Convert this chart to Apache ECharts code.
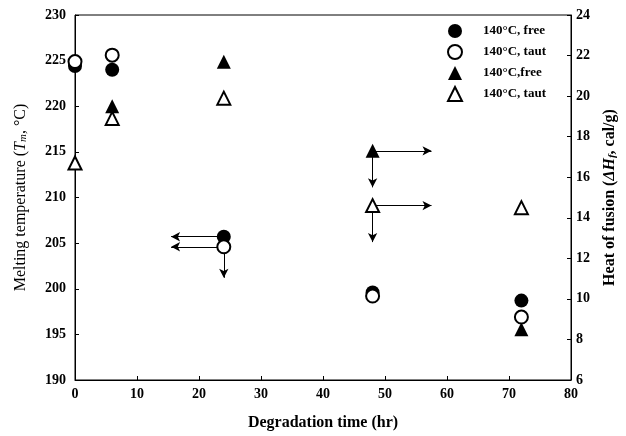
<!DOCTYPE html>
<html>
<head>
<meta charset="utf-8">
<title>Melting temperature and heat of fusion</title>
<script src="https://cdn.jsdelivr.net/npm/echarts@6/dist/echarts.min.js"></script>
<style>
  html, body { margin: 0; padding: 0; background: #fff; }
  #chart { width: 626px; height: 436px; }
</style>
</head>
<body>
<div id="chart"></div>
<script>
// melting temperature (left axis, °C)  [time hr, Tm]
var tmFree = [[0, 224.4], [6, 224.0], [24, 205.7], [48, 199.6], [72, 198.7]];
var tmTaut = [[0, 224.9], [6, 225.6], [24, 204.6], [48, 199.2], [72, 196.9]];
// heat of fusion (right axis, cal/g)
var dhFree = [[6, 19.5], [24, 21.7], [48, 17.3], [72, 8.5]];
var dhTaut = [[0, 16.7], [6, 18.9], [24, 19.9], [48, 14.6], [72, 14.5]];
// arrows drawn on the plot: [from, to]
var tmArrows = [[[24, 205.7], [15.5, 205.7]], [[24, 204.6], [15.5, 204.6]], [[24, 204.6], [24, 201.2]]];
var dhArrows = [[[48, 17.3], [57.5, 17.3]], [[48, 17.3], [48, 15.5]], [[48, 14.6], [57.5, 14.6]], [[48, 14.6], [48, 12.8]]];
var legendNames = { tmFree: '140°C, free', tmTaut: '140°C, taut', dhFree: '140°C,free', dhTaut: '140°C, taut' };

var serif = '"Liberation Serif", "DejaVu Serif", serif';

function arrowLines(list) {
    return list.map(function (a) {
        return [{ coord: a[0] }, { coord: a[1] }];
    });
}

var tickLabel = { fontFamily: serif, fontSize: 14, fontWeight: 'bold', color: '#000' };

var chart = echarts.init(document.getElementById('chart'));
chart.setOption({
    animation: false,
    backgroundColor: '#fff',
    grid: { left: 75, right: 54, top: 15, bottom: 55, show: true, borderColor: '#000', borderWidth: 1 },
    legend: {
        orient: 'vertical',
        left: 442, top: 19,
        itemWidth: 14, itemHeight: 14, itemGap: 6,
        data: ['tmFree', 'tmTaut', 'dhFree', 'dhTaut'],
        formatter: function (n) { return legendNames[n]; },
        textStyle: { fontFamily: serif, fontSize: 13, fontWeight: 'bold', color: '#000', padding: [0, 0, 0, 16] }
    },
    xAxis: {
        type: 'value', min: 0, max: 80, interval: 10,
        name: 'Degradation time (hr)', nameLocation: 'middle', nameGap: 35,
        nameTextStyle: { fontFamily: serif, fontSize: 16, fontWeight: 'bold', color: '#000' },
        axisLine: { lineStyle: { color: '#000' } },
        axisTick: { inside: true, length: 4, lineStyle: { color: '#000' } },
        axisLabel: Object.assign({ margin: 7 }, tickLabel),
        splitLine: { show: false }
    },
    yAxis: [{
        type: 'value', min: 190, max: 230, interval: 5,
        name: '{t|Melting temperature (}{i|T}{s|m}{t|, °C)}',
        nameLocation: 'middle', nameGap: 46, nameRotate: 90,
        nameTextStyle: {
            fontFamily: serif, fontSize: 16, color: '#000',
            rich: {
                t: { fontFamily: serif, fontSize: 16, color: '#000' },
                i: { fontFamily: serif, fontSize: 16, fontStyle: 'italic', color: '#000' },
                s: { fontFamily: serif, fontSize: 11, fontStyle: 'italic', color: '#000', verticalAlign: 'bottom', padding: [6, 0, 0, 0] }
            }
        },
        axisLine: { show: true, lineStyle: { color: '#000' } },
        axisTick: { inside: true, length: 4, lineStyle: { color: '#000' } },
        axisLabel: Object.assign({ margin: 9 }, tickLabel),
        splitLine: { show: false }
    }, {
        type: 'value', min: 6, max: 24, interval: 2, position: 'right',
        name: '{t|Heat of fusion (}{i|\u0394H}{s|f}{t|, cal/g)}',
        nameLocation: 'middle', nameGap: 30, nameRotate: 90,
        nameTextStyle: {
            fontFamily: serif, fontSize: 16, fontWeight: 'bold', color: '#000',
            rich: {
                t: { fontFamily: serif, fontSize: 16, fontWeight: 'bold', color: '#000' },
                i: { fontFamily: serif, fontSize: 16, fontWeight: 'bold', fontStyle: 'italic', color: '#000' },
                s: { fontFamily: serif, fontSize: 11, fontWeight: 'bold', fontStyle: 'italic', color: '#000', verticalAlign: 'bottom', padding: [6, 0, 0, 0] }
            }
        },
        axisLine: { show: true, lineStyle: { color: '#000' } },
        axisTick: { inside: true, length: 4, lineStyle: { color: '#000' } },
        axisLabel: Object.assign({ margin: 5 }, tickLabel),
        splitLine: { show: false }
    }],
    series: [{
        name: 'tmFree', type: 'scatter', yAxisIndex: 0, z: 5,
        symbol: 'circle', symbolSize: 14,
        itemStyle: { color: '#000', opacity: 1 },
        data: tmFree
    }, {
        name: 'tmTaut', type: 'scatter', yAxisIndex: 0, z: 6,
        symbol: 'emptyCircle', symbolSize: 13,
        itemStyle: { color: '#000', borderWidth: 1.5, opacity: 1 },
        data: tmTaut,
        markLine: {
            silent: true, symbol: ['none', 'arrow'], symbolSize: [7, 9],
            label: { show: false },
            lineStyle: { color: '#000', width: 1, type: 'solid', opacity: 1 },
            data: arrowLines(tmArrows)
        }
    }, {
        name: 'dhFree', type: 'scatter', yAxisIndex: 1, z: 5,
        symbol: 'triangle', symbolSize: 14,
        itemStyle: { color: '#000', opacity: 1 },
        data: dhFree
    }, {
        name: 'dhTaut', type: 'scatter', yAxisIndex: 1, z: 6,
        symbol: 'emptyTriangle', symbolSize: 13,
        itemStyle: { color: '#000', borderWidth: 1.5, opacity: 1 },
        data: dhTaut,
        markLine: {
            silent: true, symbol: ['none', 'arrow'], symbolSize: [7, 9],
            label: { show: false },
            lineStyle: { color: '#000', width: 1, type: 'solid', opacity: 1 },
            data: arrowLines(dhArrows)
        }
    }]
});
</script>
</body>
</html>
